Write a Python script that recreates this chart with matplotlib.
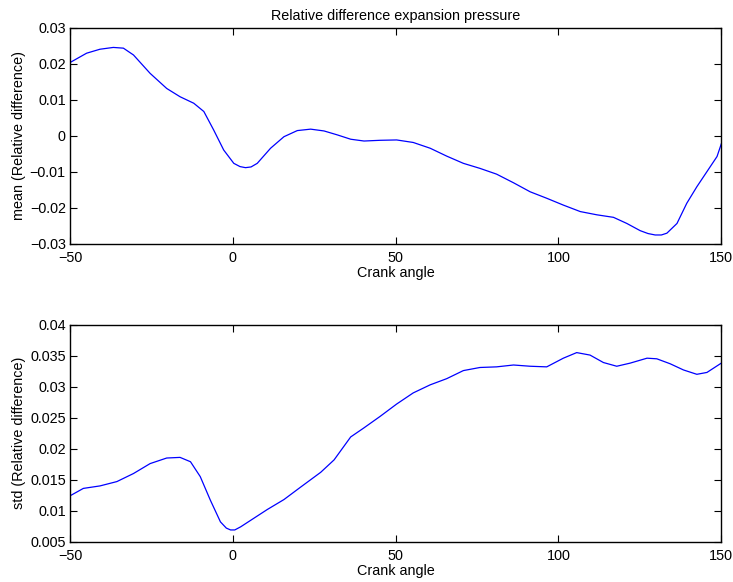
import numpy as np
import matplotlib.pyplot as plt

plt.rcParams['font.family'] = ['Liberation Sans', 'DejaVu Sans']
plt.rcParams['font.size'] = 10.4

# crank angle / mean relative difference (top panel)
mean_angle = [-50, -44.9, -40.8, -36.7, -33.6, -30.5, -25.4, -20.3, -16.2, -12.0,
              -8.9, -5.9, -2.8, 0.3, 2.2, 3.9, 5.6, 7.5, 11.6, 15.7, 19.8, 23.9, 28.0,
              32.1, 36.2, 40.3, 45.2, 50.3, 55.4, 60.6, 65.7, 70.8, 75.9, 81.0,
              86.2, 91.3, 96.4, 101.5, 106.7, 111.8, 116.9, 121.0, 125.1, 127.5, 129.7,
              131.6, 133.3, 136.4, 139.4, 142.5, 145.6, 148.7, 150]
mean_val = [0.0204, 0.0230, 0.0241, 0.0246, 0.0244, 0.0225, 0.0174, 0.0132, 0.0109, 0.0091,
            0.0068, 0.0017, -0.0039, -0.0076, -0.0085, -0.0088, -0.0086, -0.0076, -0.0034, -0.0002,
            0.0015, 0.0019, 0.0014, 0.0003, -0.0009, -0.0014, -0.0012, -0.0011, -0.0018, -0.0034,
            -0.0056, -0.0076, -0.0090, -0.0106, -0.0130, -0.0155, -0.0173, -0.0192, -0.0210, -0.0219,
            -0.0226, -0.0243, -0.0263, -0.0271, -0.0275, -0.0275, -0.0270, -0.0243, -0.0187, -0.0141,
            -0.0099, -0.0057, -0.0022]

# crank angle / std of relative difference (bottom panel)
std_angle = [-50, -45.9, -40.8, -35.6, -30.5, -25.4, -20.3, -16.2, -13.0, -10.0,
             -6.9, -3.8, -2.0, -0.7, 0.6, 2.4, 6.5, 10.6, 15.7, 20.8, 27.0, 31.1, 36.2,
             40.1, 45.2, 50.3, 55.4, 60.6, 65.7, 70.8, 75.9, 81.0, 86.2, 91.3,
             96.4, 101.5, 105.6, 109.7, 113.8, 117.9, 122.0, 127.2, 130.2, 134.3,
             138.4, 142.5, 145.6, 150]
std_val = [0.0124, 0.0136, 0.0140, 0.0147, 0.0160, 0.0176, 0.0185, 0.0186, 0.0179, 0.0155,
           0.0117, 0.0082, 0.0072, 0.0069, 0.0069, 0.0074, 0.0088, 0.0102, 0.0118, 0.0138, 0.0162,
           0.0182, 0.0219, 0.0233, 0.0252, 0.0272, 0.0290, 0.0303, 0.0313, 0.0326, 0.0331, 0.0332,
           0.0335, 0.0333, 0.0332, 0.0346, 0.0355, 0.0351, 0.0339, 0.0333, 0.0338, 0.0346, 0.0345,
           0.0337, 0.0327, 0.0320, 0.0323, 0.0338]

x_ticks = [-50, 0, 50, 100, 150]
mean_ticks = [-0.03, -0.02, -0.01, 0, 0.01, 0.02, 0.03]
mean_labels = ['\u22120.03', '\u22120.02', '\u22120.01', '0', '0.01', '0.02', '0.03']
std_ticks = [0.005, 0.01, 0.015, 0.02, 0.025, 0.03, 0.035, 0.04]
std_labels = ['0.005', '0.01', '0.015', '0.02', '0.025', '0.03', '0.035', '0.04']

fig = plt.figure(figsize=(7.33, 5.82), dpi=100)
ax1 = fig.add_axes([0.0955, 0.5808, 0.8885, 0.3711])
ax2 = fig.add_axes([0.0955, 0.0692, 0.8885, 0.3729])


def style(ax):
    ax.set_xlim(-50, 150)
    ax.set_xticks(x_ticks)
    ax.tick_params(direction='in', length=5, width=0.8, top=True, right=True,
                   labelsize=10.4, colors='black')
    ax.tick_params(axis='x', pad=5)
    ax.tick_params(axis='y', pad=3)
    for s in ax.spines.values():
        s.set_linewidth(1.0)
    ax.set_xlabel('Crank angle', fontsize=10.4, labelpad=1)


ax1.plot(mean_angle, mean_val, color='#0000ff', lw=0.9)
style(ax1)
ax1.set_ylim(-0.03, 0.03)
ax1.set_yticks(mean_ticks)
ax1.set_yticklabels(mean_labels)
ax1.set_ylabel('mean (Relative difference)', fontsize=10.4, labelpad=3)
ax1.set_title('Relative difference expansion pressure', fontsize=10.4, pad=6)

ax2.plot(std_angle, std_val, color='#0000ff', lw=0.9)
style(ax2)
ax2.set_ylim(0.005, 0.04)
ax2.set_yticks(std_ticks)
ax2.set_yticklabels(std_labels)
ax2.set_ylabel('std (Relative difference)', fontsize=10.4, labelpad=3)

fig.savefig('out.png', dpi=100)
